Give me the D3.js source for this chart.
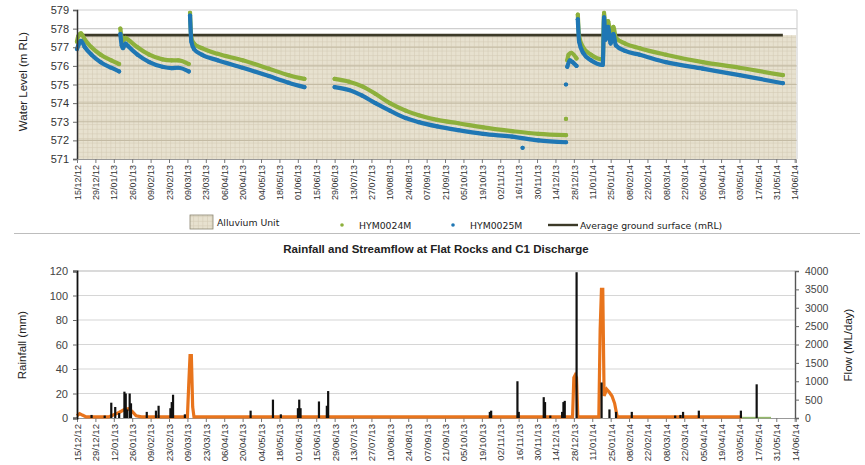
<!DOCTYPE html>
<html>
<head>
<meta charset="utf-8">
<script src="https://cdn.jsdelivr.net/npm/d3@7"></script>
<style>
  html, body { margin: 0; padding: 0; background: #fff; }
  svg { display: block; }
</style>
</head>
<body>
<svg id="chart" width="865" height="465"></svg>
<script>
// Niveles de agua (arriba) y lluvia / caudal (abajo)

const tickLabels = ['15/12/12','29/12/12','12/01/13','26/01/13','09/02/13','23/02/13','09/03/13','23/03/13',
  '06/04/13','20/04/13','04/05/13','18/05/13','01/06/13','15/06/13','29/06/13','13/07/13','27/07/13',
  '10/08/13','24/08/13','07/09/13','21/09/13','05/10/13','19/10/13','02/11/13','16/11/13','30/11/13',
  '14/12/13','28/12/13','11/01/14','25/01/14','08/02/14','22/02/14','08/03/14','22/03/14','05/04/14',
  '19/04/14','03/05/14','17/05/14','31/05/14','14/06/14'];

const levelTicks = [571, 572, 573, 574, 575, 576, 577, 578, 579];
const groundLevel = 577.65;

// null = hueco entre tramos
const hym24 = [
  ['2012-12-15',577.3],['2012-12-16',577.6],['2012-12-18',577.75],['2012-12-21',577.4],['2012-12-26',577.0],
  ['2013-01-02',576.6],['2013-01-10',576.3],['2013-01-16',576.1], null,
  ['2013-01-17',578.0],['2013-01-18',577.5],['2013-01-19',577.35],['2013-01-21',577.5],['2013-01-23',577.4],
  ['2013-01-30',577.0],['2013-02-08',576.6],['2013-02-18',576.35],['2013-02-25',576.3],['2013-03-02',576.3],
  ['2013-03-10',576.1], null,
  ['2013-03-11',578.85],['2013-03-12',577.5],['2013-03-14',577.2],['2013-03-20',576.95],['2013-04-01',576.65],
  ['2013-04-20',576.3],['2013-05-10',575.85],['2013-05-25',575.5],['2013-06-06',575.3], null,
  ['2013-06-29',575.3],['2013-07-10',575.15],['2013-07-20',574.9],['2013-07-30',574.5],['2013-08-10',574.0],
  ['2013-08-22',573.6],['2013-09-01',573.35],['2013-09-15',573.1],['2013-10-01',572.92],['2013-10-20',572.7],
  ['2013-11-11',572.5],['2013-12-01',572.35],['2013-12-22',572.28], null,
  ['2013-12-22',573.15], null,
  ['2013-12-23',576.3],['2013-12-24',576.6],['2013-12-26',576.7],['2013-12-30',576.4], null,
  ['2013-12-31',578.75],['2014-01-01',577.6],['2014-01-04',577.0],['2014-01-10',576.6],['2014-01-19',576.35],
  ['2014-01-20',578.85],['2014-01-21',577.7],['2014-01-23',578.4],['2014-01-25',577.6],['2014-01-27',578.1],
  ['2014-01-29',577.5],['2014-02-05',577.2],['2014-02-16',576.95],['2014-03-08',576.6],['2014-04-05',576.2],
  ['2014-05-03',575.9],['2014-06-05',575.5]
];

const hym25 = [
  ['2012-12-15',576.9],['2012-12-16',577.1],['2012-12-18',577.35],['2012-12-21',577.0],['2012-12-26',576.6],
  ['2013-01-02',576.2],['2013-01-10',575.9],['2013-01-16',575.7], null,
  ['2013-01-17',577.7],['2013-01-18',577.1],['2013-01-19',576.95],['2013-01-21',577.2],['2013-01-23',577.05],
  ['2013-01-30',576.6],['2013-02-08',576.2],['2013-02-18',575.95],['2013-02-25',575.88],['2013-03-02',575.9],
  ['2013-03-10',575.7], null,
  ['2013-03-11',578.7],['2013-03-12',577.3],['2013-03-14',576.9],['2013-03-20',576.6],['2013-04-01',576.3],
  ['2013-04-20',575.9],['2013-05-10',575.45],['2013-05-25',575.1],['2013-06-06',574.86], null,
  ['2013-06-29',574.86],['2013-07-10',574.7],['2013-07-20',574.4],['2013-07-30',574.0],['2013-08-10',573.6],
  ['2013-08-22',573.2],['2013-09-01',572.98],['2013-09-15',572.75],['2013-10-01',572.55],['2013-10-20',572.35],
  ['2013-11-11',572.2],['2013-12-01',572.0],['2013-12-22',571.9], null,
  ['2013-11-19',571.6], null,
  ['2013-12-22',575.0], null,
  ['2013-12-23',575.95],['2013-12-25',576.3],['2013-12-27',576.2],['2013-12-30',576.0], null,
  ['2013-12-31',578.5],['2014-01-01',577.3],['2014-01-04',576.7],['2014-01-10',576.3],['2014-01-19',576.05],
  ['2014-01-20',578.6],['2014-01-21',577.4],['2014-01-23',578.1],['2014-01-25',577.2],['2014-01-27',577.7],
  ['2014-01-29',577.1],['2014-02-05',576.8],['2014-02-16',576.6],['2014-03-08',576.2],['2014-04-05',575.85],
  ['2014-05-03',575.5],['2014-06-05',575.07]
];

const rainTicks = [0, 20, 40, 60, 80, 100, 120];
const flowTicks = [0, 500, 1000, 1500, 2000, 2500, 3000, 3500, 4000];

const rainDates = ['2012-12-26','2013-01-05','2013-01-10','2013-01-13','2013-01-16','2013-01-20','2013-01-21',
  '2013-01-22','2013-01-24','2013-01-25','2013-02-06','2013-02-13','2013-02-15','2013-02-24','2013-02-25',
  '2013-02-26','2013-03-07','2013-04-26','2013-05-13','2013-05-19','2013-06-01','2013-06-02','2013-06-03',
  '2013-06-17','2013-06-23','2013-06-24','2013-10-25','2013-10-26','2013-11-15','2013-11-16','2013-12-05',
  '2013-12-06','2013-12-10','2013-12-19','2013-12-20','2013-12-21','2013-12-30','2014-01-18','2014-01-24',
  '2014-01-29','2014-02-10','2014-03-15','2014-03-19','2014-03-21','2014-04-02','2014-05-04','2014-05-16'];
const rainMm = [2.5, 2, 12.5, 9, 4, 21.5, 20, 7, 20, 12, 5, 6, 10, 8, 13, 19, 3, 6, 15, 3, 8, 15, 8,
  13.5, 10, 22, 5, 6, 30, 5, 17, 13, 2, 5, 13, 14, 119, 29, 7, 5, 5, 2, 2.5, 5, 6, 6, 27.5];

const flowDates = ['2012-12-15','2012-12-17','2012-12-19','2012-12-22','2013-01-08','2013-01-12','2013-01-16',
  '2013-01-20','2013-01-23','2013-01-26','2013-01-29','2013-02-02','2013-03-09','2013-03-10','2013-03-11',
  '2013-03-12','2013-03-13','2013-03-14','2013-12-27','2013-12-28','2013-12-29','2013-12-30','2013-12-31',
  '2014-01-16','2014-01-17','2014-01-18','2014-01-19','2014-01-20','2014-01-22','2014-01-24','2014-01-26',
  '2014-01-28','2014-01-30','2014-05-05'];
const flowMl = [60, 120, 80, 30, 30, 90, 150, 230, 250, 180, 60, 30, 30, 900, 1700, 1700, 300, 30, 30,
  1100, 1170, 1100, 30, 30, 2400, 3500, 3500, 600, 780, 700, 600, 400, 30, 30];

const c1Dates = ['2014-05-05', '2014-05-27'];
const c1Ml = [10, 10];

const GREEN = '#8db03c', BLUE = '#1f77b4', ORANGE = '#e8741c';
const FONT = 'Liberation Sans, Arial, sans-serif';

const parse = d3.utcParse('%Y-%m-%d');
const parseTick = d3.utcParse('%d/%m/%y');
const tickDates = tickLabels.map(parseTick);

const svg = d3.select('#chart');
const X0 = 77, X1 = 796;
const x = d3.scaleUtc().domain([parse('2012-12-15'), parse('2014-06-15')]).range([X0, X1]);

// ---------- gráfico superior ----------
const yT = d3.scaleLinear().domain([571, 579]).range([159, 10]);

const defs = svg.append('defs');
const pat = defs.append('pattern').attr('id', 'alluv').attr('patternUnits', 'userSpaceOnUse')
  .attr('width', 4.6).attr('height', 4.6);
pat.append('rect').attr('width', 4.6).attr('height', 4.6).attr('fill', '#e7e1cf');
pat.append('path').attr('d', 'M0,0.3H4.6M0.3,0V4.6').attr('stroke', '#d3cab4').attr('stroke-width', 0.7);

const gTop = svg.append('g');
gTop.append('rect').attr('x', X0).attr('y', yT(groundLevel)).attr('width', X1 - X0)
  .attr('height', yT(571) - yT(groundLevel)).attr('fill', 'url(#alluv)');

gTop.append('g').selectAll('line').data(levelTicks.slice(1)).join('line')
  .attr('x1', X0).attr('x2', X1 + 1).attr('y1', d => yT(d)).attr('y2', d => yT(d))
  .attr('stroke', d => d < groundLevel ? '#c4bba4' : '#cfcfcf').attr('stroke-width', 1.2);
gTop.append('line').attr('x1', X1 + 1).attr('x2', X1 + 1).attr('y1', yT(579)).attr('y2', yT(571))
  .attr('stroke', '#d4d4d4').attr('stroke-width', 1.2);

gTop.append('line').attr('x1', X0).attr('x2', x(parse('2014-06-05')))
  .attr('y1', yT(groundLevel)).attr('y2', yT(groundLevel))
  .attr('stroke', '#3c3a28').attr('stroke-width', 2.6);

function drawSeries(data, color) {
  const pts = data.map(d => d ? { d: parse(d[0]), v: d[1] } : null);
  const line = d3.line().defined(p => p).x(p => x(p.d)).y(p => yT(p.v)).curve(d3.curveMonotoneX);
  gTop.append('path').attr('d', line(pts)).attr('fill', 'none').attr('stroke', color)
    .attr('stroke-width', 4.2).attr('stroke-linecap', 'round').attr('stroke-linejoin', 'round');
  gTop.append('g').selectAll('circle').data(pts.filter(p => p)).join('circle')
    .attr('cx', p => x(p.d)).attr('cy', p => yT(p.v)).attr('r', 2.1).attr('fill', color);
}
drawSeries(hym24, GREEN);
drawSeries(hym25, BLUE);

// ejes
const axT = gTop.append('g').attr('transform', `translate(${X0},0)`)
  .call(d3.axisLeft(yT).tickValues(levelTicks).tickSize(4).tickFormat(d3.format('d')));
axT.select('.domain').attr('stroke', '#333').attr('stroke-width', 1.5);
axT.selectAll('.tick line').attr('stroke', '#666');
axT.selectAll('text').attr('font-family', FONT).attr('font-size', 11).attr('fill', '#333').attr('dx', -1);

function dateAxis(g, y0, fs) {
  const ax = g.append('g').attr('transform', `translate(0,${y0})`)
    .call(d3.axisBottom(x).tickValues(tickDates).tickSize(4).tickFormat((d, i) => tickLabels[i]));
  ax.select('.domain').attr('stroke', '#999');
  ax.selectAll('.tick line').attr('stroke', '#777');
  ax.selectAll('text').attr('font-family', FONT).attr('font-size', fs).attr('fill', '#333')
    .attr('transform', 'rotate(-90)').attr('text-anchor', 'end').attr('x', -6).attr('y', 0).attr('dy', '0.35em');
  return ax;
}
dateAxis(gTop, yT(571), 9);

gTop.append('text').attr('transform', `translate(27,${(yT(579) + yT(571)) / 2 - 3}) rotate(-90)`)
  .attr('text-anchor', 'middle').attr('font-family', FONT).attr('font-size', 11.5)
  .attr('fill', '#222').text('Water Level (m RL)');

// leyenda
const lg = svg.append('g').attr('font-family', 'DejaVu Sans, Verdana, sans-serif').attr('font-size', 9.3).attr('fill', '#222');
lg.append('rect').attr('x', 190).attr('y', 215).attr('width', 23).attr('height', 14)
  .attr('fill', 'url(#alluv)').attr('stroke', '#8a8470').attr('stroke-width', 0.8);
lg.append('text').attr('x', 217).attr('y', 225.5).text('Alluvium Unit');
lg.append('circle').attr('cx', 342).attr('cy', 225).attr('r', 1.8).attr('fill', GREEN);
lg.append('text').attr('x', 359).attr('y', 229).text('HYM0024M');
lg.append('circle').attr('cx', 453).attr('cy', 225).attr('r', 1.8).attr('fill', BLUE);
lg.append('text').attr('x', 470).attr('y', 229).text('HYM0025M');
lg.append('line').attr('x1', 548).attr('x2', 578).attr('y1', 225).attr('y2', 225)
  .attr('stroke', '#3c3a28').attr('stroke-width', 2.4);
lg.append('text').attr('x', 580).attr('y', 229).text('Average ground surface (mRL)');
svg.append('line').attr('x1', 14).attr('x2', 860).attr('y1', 233.5).attr('y2', 233.5)
  .attr('stroke', '#bdbdbd').attr('stroke-width', 1.2);

// ---------- gráfico inferior ----------
const yL = d3.scaleLinear().domain([0, 120]).range([418, 271]);
const yR = d3.scaleLinear().domain([0, 4000]).range([418, 271]);
const bot = svg.append('g');

bot.append('text').attr('x', 436).attr('y', 253).attr('text-anchor', 'middle')
  .attr('font-family', FONT).attr('font-weight', 'bold').attr('font-size', 11.5).attr('fill', '#222')
  .text('Rainfall and Streamflow at Flat Rocks and C1 Discharge');

bot.append('g').selectAll('line').data(rainTicks.slice(1)).join('line')
  .attr('x1', X0).attr('x2', 795).attr('y1', d => yL(d)).attr('y2', d => yL(d))
  .attr('stroke', d => d === 120 ? '#b5b5b5' : '#d6d6d6').attr('stroke-width', 1.2);

dateAxis(bot, yL(0), 9.6);

// caudal (naranja) y descarga C1 (verde)
const flowLine = d3.line().x(d => x(d.d)).y(d => yR(d.v));
bot.append('path').attr('d', flowLine(flowDates.map((d, i) => ({ d: parse(d), v: flowMl[i] }))))
  .attr('fill', 'none').attr('stroke', ORANGE).attr('stroke-width', 3.2).attr('stroke-linejoin', 'miter');
bot.append('path').attr('d', flowLine(c1Dates.map((d, i) => ({ d: parse(d), v: c1Ml[i] }))))
  .attr('fill', 'none').attr('stroke', '#93b86a').attr('stroke-width', 1.6);

// lluvia (barras negras)
bot.append('g').selectAll('rect').data(rainDates.map((d, i) => ({ d: parse(d), v: rainMm[i] }))).join('rect')
  .attr('x', d => x(d.d) - 1).attr('width', 2.2)
  .attr('y', d => yL(d.v)).attr('height', d => yL(0) - yL(d.v)).attr('fill', '#111');

const axL = bot.append('g').attr('transform', `translate(${X0},0)`)
  .call(d3.axisLeft(yL).tickValues(rainTicks).tickSize(4));
axL.select('.domain').attr('stroke', '#111').attr('stroke-width', 1.8);
axL.selectAll('.tick line').attr('stroke', '#666');
axL.selectAll('text').attr('font-family', FONT).attr('font-size', 11).attr('fill', '#444').attr('dx', -2);

const axR = bot.append('g').attr('transform', 'translate(795,0)')
  .call(d3.axisRight(yR).tickValues(flowTicks).tickSize(4).tickFormat(d3.format('d')));
axR.select('.domain').attr('stroke', '#555').attr('stroke-width', 1.4);
axR.selectAll('.tick line').attr('stroke', '#666');
axR.selectAll('text').attr('font-family', FONT).attr('font-size', 10.5).attr('fill', '#444').attr('dx', 3);

bot.append('text').attr('transform', `translate(26,345) rotate(-90)`).attr('text-anchor', 'middle')
  .attr('font-family', FONT).attr('font-size', 11.5).attr('fill', '#222').text('Rainfall (mm)');
bot.append('text').attr('transform', `translate(852,345) rotate(-90)`).attr('text-anchor', 'middle')
  .attr('font-family', FONT).attr('font-size', 11.5).attr('fill', '#222').text('Flow (ML/day)');
</script>
</body>
</html>
